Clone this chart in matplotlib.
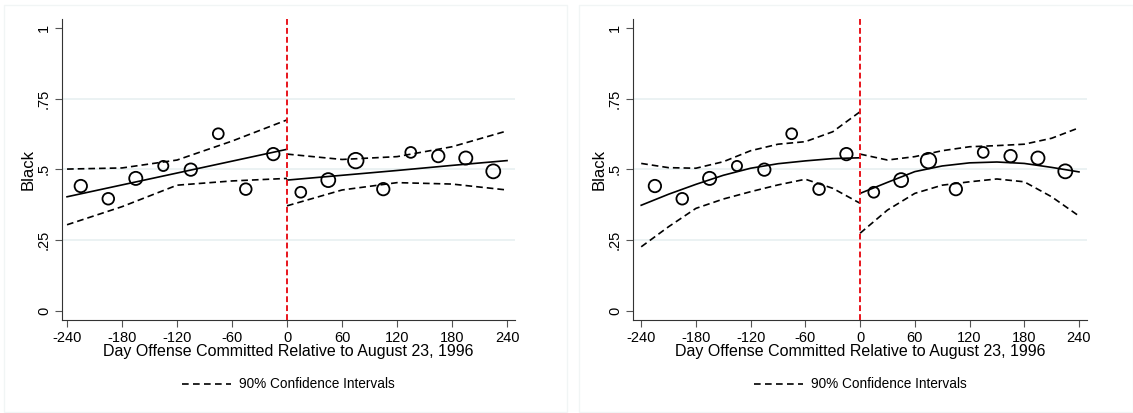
import matplotlib.pyplot as plt
from matplotlib.patches import Rectangle
from matplotlib.lines import Line2D

plt.rcParams['font.family'] = ['Liberation Sans', 'DejaVu Sans']

# binned means (30-day bins) and relative bin weights
bin_days = [-225, -195, -165, -135, -105, -75, -45, -15,
            15, 45, 75, 105, 135, 165, 195, 225]
bin_black = [0.441, 0.396, 0.468, 0.512, 0.499, 0.626, 0.430, 0.554,
             0.419, 0.462, 0.531, 0.430, 0.560, 0.547, 0.540, 0.493]
bin_weight = [114, 100, 128, 76, 114, 87, 100, 114,
              87, 144, 177, 114, 87, 114, 128, 144]

# linear fit panel
lin_pre_x = [-240, -180, -120, -60, 0]
lin_pre_fit = [0.403, 0.445, 0.487, 0.529, 0.571]
lin_pre_hi = [0.501, 0.505, 0.533, 0.600, 0.675]
lin_pre_lo = [0.304, 0.368, 0.444, 0.459, 0.468]
lin_post_x = [0, 60, 120, 180, 240]
lin_post_fit = [0.462, 0.479, 0.496, 0.514, 0.531]
lin_post_hi = [0.554, 0.535, 0.545, 0.580, 0.636]
lin_post_lo = [0.371, 0.427, 0.453, 0.448, 0.427]

# quadratic fit panel
quad_pre_x = [-240, -210, -180, -150, -120, -90, -60, -30, 0]
quad_pre_fit = [0.373, 0.412, 0.447, 0.479, 0.504, 0.520, 0.530, 0.538, 0.541]
quad_pre_hi = [0.521, 0.506, 0.504, 0.527, 0.566, 0.589, 0.598, 0.633, 0.704]
quad_pre_lo = [0.226, 0.297, 0.362, 0.395, 0.421, 0.445, 0.465, 0.433, 0.380]
quad_post_x = [0, 30, 60, 90, 120, 150, 180, 210, 240]
quad_post_fit = [0.415, 0.454, 0.492, 0.512, 0.523, 0.526, 0.521, 0.507, 0.491]
quad_post_hi = [0.554, 0.533, 0.545, 0.566, 0.580, 0.584, 0.589, 0.610, 0.647]
quad_post_lo = [0.274, 0.356, 0.415, 0.444, 0.456, 0.466, 0.456, 0.403, 0.335]

x_ticks = [-240, -180, -120, -60, 0, 60, 120, 180, 240]
y_ticks = [0, 0.25, 0.5, 0.75, 1]
y_ticklabels = ['0', '.25', '.5', '.75', '1']

W, H = 1133, 413
fig = plt.figure(figsize=(W / 100, H / 100), dpi=100)

# light panel frames
for x0, x1 in [(4, 567), (579, 1133)]:
    fig.patches.append(Rectangle((x0 / W, 1 - 412 / H), (x1 - x0) / W, 407 / H,
                                 transform=fig.transFigure, fill=False,
                                 edgecolor='#f1f5f5', lw=1.0))

panels = [
    (62, 515, -245.5, 248.7, lin_pre_x, lin_pre_fit, lin_pre_hi, lin_pre_lo,
     lin_post_x, lin_post_fit, lin_post_hi, lin_post_lo),
    (633, 1087, -249, 248.8, quad_pre_x, quad_pre_fit, quad_pre_hi, quad_pre_lo,
     quad_post_x, quad_post_fit, quad_post_hi, quad_post_lo),
]

top, bottom = 19, 320
for (left, right, xl, xr, px, pf, ph, plo, qx, qf, qh, qlo) in panels:
    ax = fig.add_axes([left / W, 1 - bottom / H, (right - left) / W, (bottom - top) / H])
    ax.set_xlim(xl, xr)
    ax.set_ylim(-0.033, 1.032)
    for g in [0.25, 0.5, 0.75]:
        ax.axhline(g, color='#e8f0f1', lw=1.2, zorder=0)
    dash = (0, (4, 2.4))
    for xs, fit, hi, lo in [(px, pf, ph, plo), (qx, qf, qh, qlo)]:
        ax.plot(xs, fit, color='black', lw=1.2, zorder=3)
        ax.plot(xs, hi, color='black', lw=1.2, linestyle=dash, zorder=3)
        ax.plot(xs, lo, color='black', lw=1.2, linestyle=dash, zorder=3)
    ax.scatter(bin_days, bin_black, s=[0.7 * w for w in bin_weight],
               facecolors='none', edgecolors='black', linewidths=1.3, zorder=4)
    ax.axvline(0, color='#e8141c', lw=1.4, linestyle=(0, (3, 1.6)), zorder=5)
    ax.spines['top'].set_visible(False)
    ax.spines['right'].set_visible(False)
    ax.spines['left'].set_color('#333333')
    ax.spines['bottom'].set_color('#333333')
    ax.set_xticks(x_ticks)
    ax.set_xticklabels([str(t) for t in x_ticks])
    ax.set_yticks(y_ticks)
    ax.set_yticklabels(y_ticklabels, rotation=90, va='center')
    ax.tick_params(direction='out', length=5, color='#555555', labelsize=10.5, pad=3)
    ax.set_xlabel('Day Offense Committed Relative to August 23, 1996', fontsize=11.5, labelpad=-1)
    ax.set_ylabel('Black', fontsize=12, labelpad=1)
    handle = Line2D([], [], color='black', lw=1.2, linestyle=(0, (4, 2.6)))
    ax.legend([handle], ['90% Confidence Intervals'], loc='upper center',
              bbox_to_anchor=(0.5, -0.15), frameon=False, fontsize=9.8,
              handlelength=3.6, handletextpad=0.6)

fig.savefig('out.png', dpi=100)
